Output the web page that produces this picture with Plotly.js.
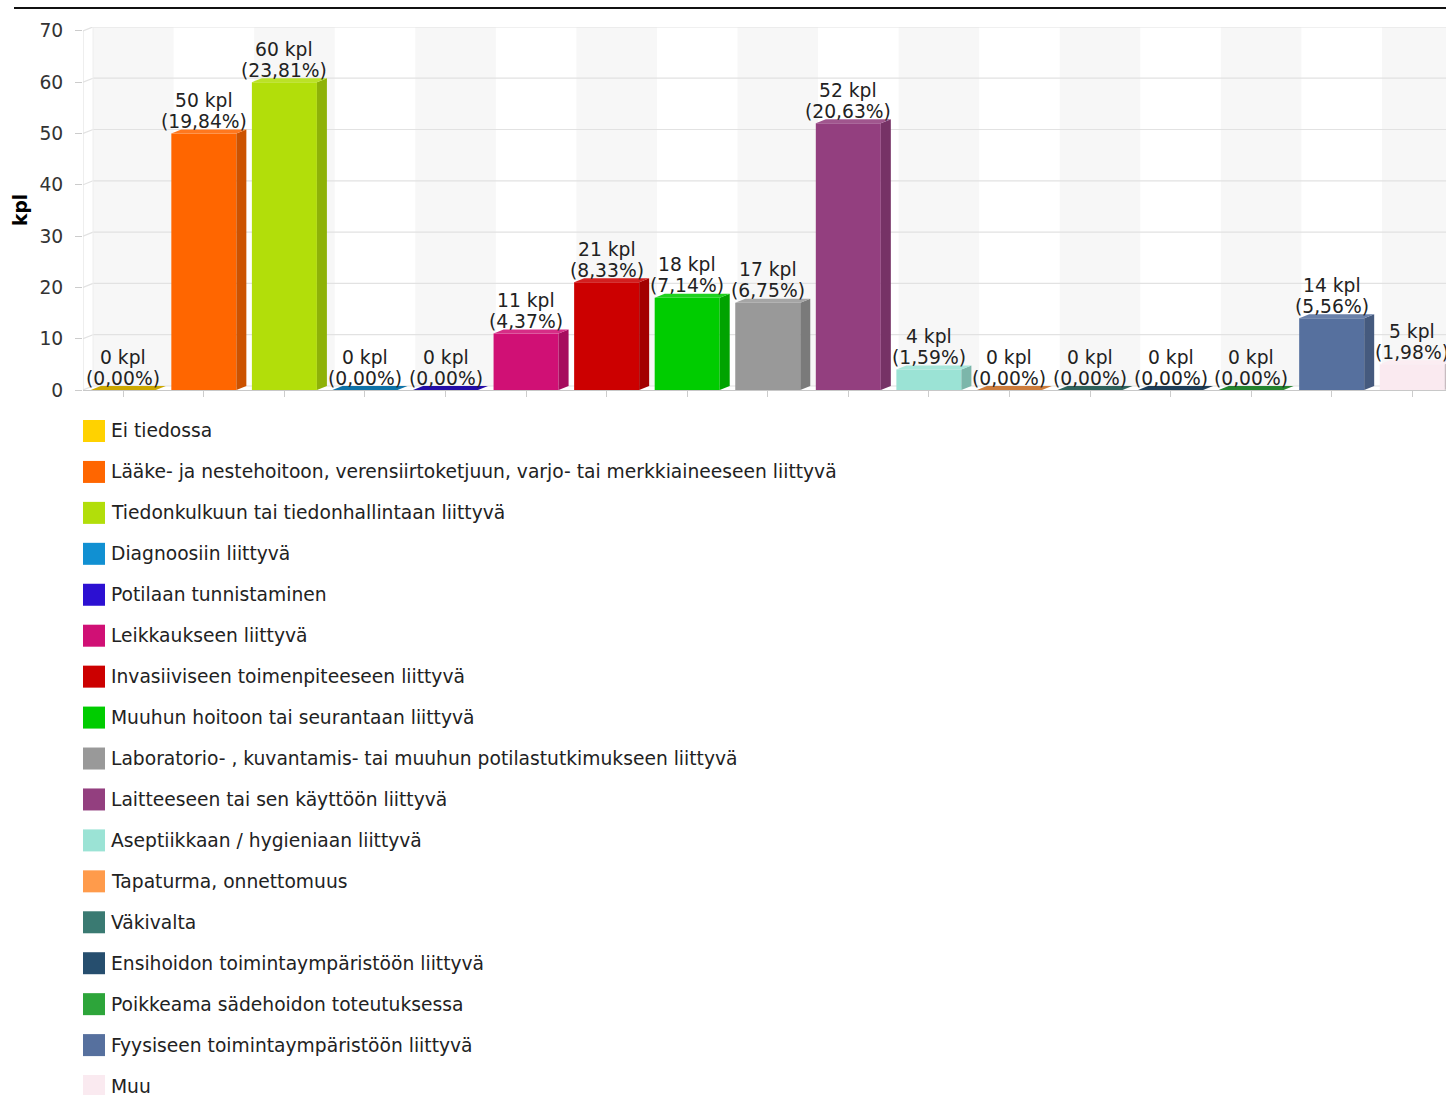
<!DOCTYPE html>
<html><head><meta charset="utf-8">
<script src="https://cdn.plot.ly/plotly-3.0.1.min.js"></script>
<style>html,body{margin:0;padding:0;background:#fff;overflow:hidden}</style>
</head><body><div id="chart" style="width:1446px;height:1095px"></div>
<script>
const categories = [
  "Ei tiedossa",
  "Lääke- ja nestehoitoon, verensiirtoketjuun, varjo- tai merkkiaineeseen liittyvä",
  "Tiedonkulkuun tai tiedonhallintaan liittyvä",
  "Diagnoosiin liittyvä",
  "Potilaan tunnistaminen",
  "Leikkaukseen liittyvä",
  "Invasiiviseen toimenpiteeseen liittyvä",
  "Muuhun hoitoon tai seurantaan liittyvä",
  "Laboratorio- , kuvantamis- tai muuhun potilastutkimukseen liittyvä",
  "Laitteeseen tai sen käyttöön liittyvä",
  "Aseptiikkaan / hygieniaan liittyvä",
  "Tapaturma, onnettomuus",
  "Väkivalta",
  "Ensihoidon toimintaympäristöön liittyvä",
  "Poikkeama sädehoidon toteutuksessa",
  "Fyysiseen toimintaympäristöön liittyvä",
  "Muu"
];
const values = [0, 50, 60, 0, 0, 11, 21, 18, 17, 52, 4, 0, 0, 0, 0, 14, 5];
const percents = [0, 19.84, 23.81, 0, 0, 4.37, 8.33, 7.14, 6.75, 20.63, 1.59, 0, 0, 0, 0, 5.56, 1.98];
const colors = [
  "#FFD200", "#FF6600", "#B2DE0A", "#1190D2", "#2C10D2", "#D01075",
  "#CC0000", "#00CC00", "#999999", "#933F7F", "#9BE3D5", "#FF9B4B",
  "#3A7A72", "#264E6E", "#2DA53A", "#56709E", "#FAEAF0"
];
const yTicks = [0, 10, 20, 30, 40, 50, 60, 70];

// geometry (pixels of the reference layout)
const W = 1446, H = 1095;
const L = 83, T = 27, B = 390;           // plot area front plane
const pxPerCat = 80.56, pxPerUnit = 5.13;
const plotW = W - L, plotH = B - T;
const dx = 10 / pxPerCat;                // 3D depth in category units
const dy = 4 / pxPerUnit;                // 3D depth in value units
const barW = 0.807;
const xMax = plotW / pxPerCat - 0.5;
const yMax = plotH / pxPerUnit;
const font = "DejaVu Sans, Verdana, sans-serif";
const fs = 18.7;

function shade(hex, f) {
  const n = parseInt(hex.slice(1), 16);
  let r = (n >> 16) & 255, g = (n >> 8) & 255, b = n & 255;
  if (f <= 1) { r *= f; g *= f; b *= f; }
  else { const t = f - 1; r += (255 - r) * t; g += (255 - g) * t; b += (255 - b) * t; }
  return "rgb(" + Math.round(r) + "," + Math.round(g) + "," + Math.round(b) + ")";
}
const px2x = p => (p - L) / plotW;
const px2y = p => (B - p) / plotH;

const idx = categories.map((_, i) => i);
const traces = [];
traces.push({
  type: "bar", x: idx, y: values, width: barW,
  marker: { color: colors, line: { width: 0 } },
  hovertext: categories, hoverinfo: "text+y", showlegend: false
});
idx.forEach(i => {
  const v = values[i], xl = i - barW / 2, xr = i + barW / 2;
  if (v > 0) {
    traces.push({
      type: "scatter", mode: "lines", x: [xr, xr + dx, xr + dx, xr, xr], y: [0, dy, v + dy, v, 0],
      fill: "toself", fillcolor: shade(colors[i], 0.8), line: { width: 0, color: "rgba(0,0,0,0)" },
      hoverinfo: "skip", showlegend: false
    });
  }
  traces.push({
    type: "scatter", mode: "lines", x: [xl, xl + dx, xr + dx, xr, xl], y: [v, v + dy, v + dy, v, v],
    fill: "toself", fillcolor: v > 0 ? shade(colors[i], 1.12) : shade(colors[i], 0.8),
    line: { width: 0, color: "rgba(0,0,0,0)" }, hoverinfo: "skip", showlegend: false
  });
});

const shapes = [];
// alternating back-plane bands
idx.forEach(i => {
  if (i % 2 === 0) shapes.push({ type: "rect", xref: "x", yref: "y", layer: "below",
    x0: i - 0.5 + dx, x1: i + 0.5 + dx, y0: dy, y1: 70 + dy, fillcolor: "#f7f7f7", line: { width: 0 } });
});
// back-plane gridlines and left connectors
yTicks.forEach(v => {
  shapes.push({ type: "line", xref: "x", yref: "y", layer: "below",
    x0: -0.5 + dx, x1: xMax + 1, y0: v + dy, y1: v + dy, line: { color: "#e2e2e2", width: 1.2 } });
  shapes.push({ type: "line", xref: "x", yref: "y", layer: "below",
    x0: -0.5, x1: -0.5 + dx, y0: v, y1: v + dy, line: { color: "#e2e2e2", width: 1.2 } });
});
// front left axis line
shapes.push({ type: "line", xref: "x", yref: "y", layer: "below",
  x0: -0.5, x1: -0.5, y0: 0, y1: 70, line: { color: "#dddddd", width: 1 } });
// back-plane left edge
shapes.push({ type: "line", xref: "x", yref: "y", layer: "below",
  x0: -0.5 + dx, x1: -0.5 + dx, y0: dy, y1: 70 + dy, line: { color: "#eeeeee", width: 1 } });
// top separator line
shapes.push({ type: "line", xref: "paper", yref: "paper",
  x0: px2x(14), x1: 1.01, y0: px2y(8), y1: px2y(8), line: { color: "#111", width: 2 } });

const annotations = [];
idx.forEach(i => {
  const v = values[i];
  const pct = "(" + percents[i].toFixed(2).replace(".", ",") + "%)";
  annotations.push({ xref: "x", yref: "y", x: i, y: v, text: v + " kpl", showarrow: false,
    xanchor: "center", yanchor: "middle", yshift: 33, font: { family: font, size: fs, color: "#222" } });
  annotations.push({ xref: "x", yref: "y", x: i, y: v, text: pct, showarrow: false,
    xanchor: "center", yanchor: "middle", yshift: 12, font: { family: font, size: fs, color: "#222" } });
});
// y-axis title
annotations.push({ xref: "paper", yref: "paper", x: px2x(20), y: px2y(210), text: "<b>kpl</b>",
  textangle: -90, showarrow: false, xanchor: "center", yanchor: "middle",
  font: { family: font, size: fs, color: "#000" } });

// legend built from categories and colors
const legTop = 431, legStep = 40.94;
idx.forEach(i => {
  const cy = legTop + legStep * i;
  shapes.push({ type: "rect", xref: "paper", yref: "paper",
    x0: px2x(83), x1: px2x(105), y0: px2y(cy - 11), y1: px2y(cy + 11),
    fillcolor: colors[i], line: { width: 0 } });
  annotations.push({ xref: "paper", yref: "paper", x: px2x(109), y: px2y(cy), text: categories[i],
    showarrow: false, xanchor: "left", yanchor: "middle", font: { family: font, size: fs, color: "#222" } });
});

const layout = {
  width: W, height: H,
  margin: { l: L, r: 0, t: T, b: H - B, pad: 0 },
  paper_bgcolor: "#fff", plot_bgcolor: "#fff",
  showlegend: false,
  font: { family: font, size: fs, color: "#333" },
  xaxis: { range: [-0.5, xMax], tickvals: idx, showticklabels: false, ticks: "outside", ticklen: 6,
    tickcolor: "#cccccc", showgrid: false, zeroline: false, showline: true, linecolor: "#c8c8c8", linewidth: 1,
    fixedrange: true },
  yaxis: { range: [0, yMax], tickvals: yTicks, ticks: "outside", ticklen: 7, tickcolor: "#cccccc",
    ticklabelstandoff: 8, showgrid: false, zeroline: false, showline: false,
    tickfont: { family: font, size: fs, color: "#333" }, fixedrange: true },
  shapes: shapes,
  annotations: annotations
};

Plotly.newPlot("chart", traces, layout, { displayModeBar: false, staticPlot: true });
</script></body></html>
